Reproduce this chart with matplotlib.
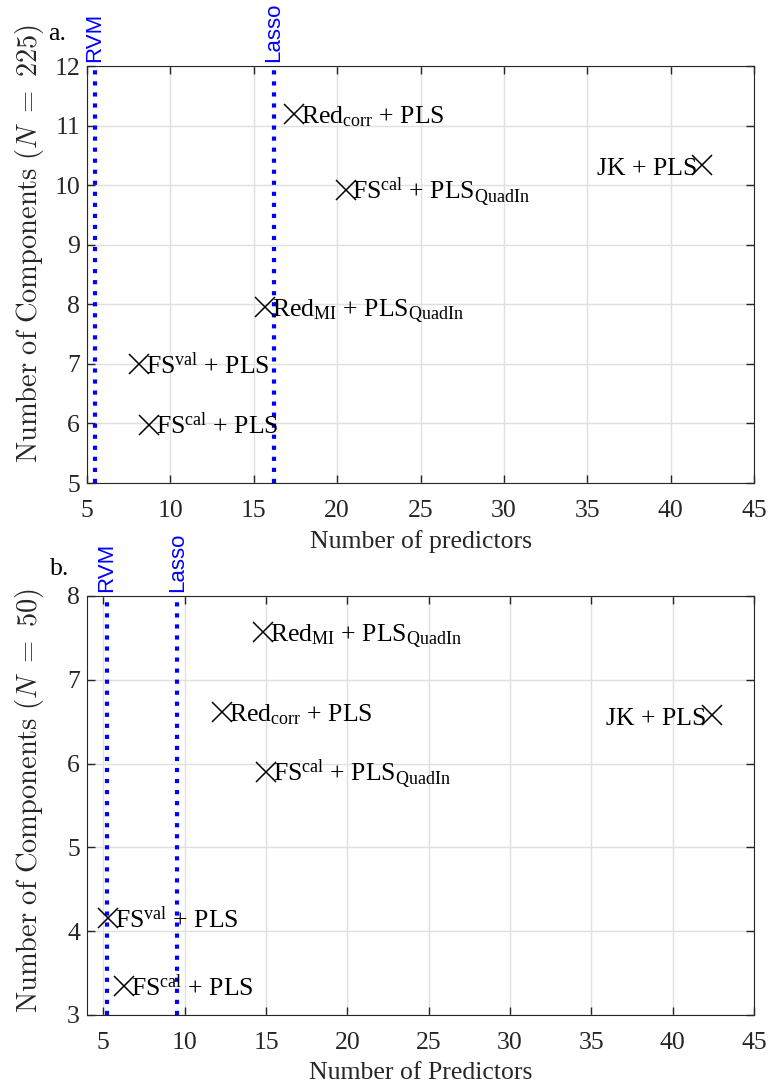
import matplotlib
matplotlib.use('Agg')
import matplotlib.pyplot as plt

plt.rcParams['font.family'] = 'Liberation Serif'
plt.rcParams['mathtext.fontset'] = 'custom'
plt.rcParams['mathtext.rm'] = 'Liberation Serif'
plt.rcParams['mathtext.it'] = 'Liberation Serif:italic'

# panel a (N = 225)
labels_a = [r'Red$_{\mathrm{corr}}$ + PLS', r'FS$^{\mathrm{cal}}$ + PLS$_{\mathrm{QuadIn}}$',
            r'Red$_{\mathrm{MI}}$ + PLS$_{\mathrm{QuadIn}}$', 'JK + PLS',
            r'FS$^{\mathrm{val}}$ + PLS', r'FS$^{\mathrm{cal}}$ + PLS']
x_a = [17.4, 20.5, 15.7, 41.9, 8.1, 8.7]
y_a = [11.2, 9.92, 7.96, 10.34, 7.0, 5.98]
rvm_a = 5.45
lasso_a = 16.2

# panel b (N = 50)
labels_b = [r'Red$_{\mathrm{MI}}$ + PLS$_{\mathrm{QuadIn}}$', r'Red$_{\mathrm{corr}}$ + PLS',
            r'FS$^{\mathrm{cal}}$ + PLS$_{\mathrm{QuadIn}}$', 'JK + PLS',
            r'FS$^{\mathrm{val}}$ + PLS', r'FS$^{\mathrm{cal}}$ + PLS']
x_b = [14.8, 12.3, 15.0, 42.4, 5.3, 6.3]
y_b = [7.57, 6.62, 5.90, 6.58, 4.16, 3.34]
rvm_b = 5.2
lasso_b = 9.55

fs = 18.5
fig = plt.figure(figsize=(7.68, 10.86), dpi=100)
ax1 = fig.add_axes([0.1133, 0.5552, 0.8687, 0.384])
ax2 = fig.add_axes([0.1133, 0.0654, 0.8687, 0.3858])


def draw(ax, xs, ys, labels, rvm, lasso, xlim, ylim, xlabel, ylabel, tag, tagpos):
    ax.grid(True, color='#e0e0e0', linewidth=1)
    ax.set_axisbelow(True)
    for xv, name in [(rvm, 'RVM'), (lasso, 'Lasso')]:
        ax.axvline(xv, color='#0000ff', linestyle=':', linewidth=3)
        ax.annotate(name, (xv, ylim[1]), xytext=(0, 3), textcoords='offset points',
                    rotation=90, color='#0000ff', ha='center', va='bottom',
                    family='Liberation Sans', fontsize=16, annotation_clip=False)
    for xv, yv, lab in zip(xs, ys, labels):
        ax.plot(xv, yv, 'x', color='black', markersize=14, markeredgewidth=1.1)
        if lab.startswith('JK'):
            ax.annotate(lab, (xv, yv), xytext=(-4, -7), textcoords='offset points',
                        ha='right', va='baseline', fontsize=fs)
        else:
            ax.annotate(lab, (xv, yv), xytext=(5, -7), textcoords='offset points',
                        ha='left', va='baseline', fontsize=fs)
    ax.set_xlim(xlim)
    ax.set_ylim(ylim)
    ax.set_xticks(range(5, 46, 5))
    ax.set_yticks(range(ylim[0], ylim[1] + 1))
    ax.tick_params(direction='in', top=True, right=True, labelsize=fs, colors='#262626',
                   length=6, width=1, pad=5)
    ax.tick_params(axis='x', pad=12)
    for sp in ax.spines.values():
        sp.set_color('#262626')
    ax.set_xlabel(xlabel, fontsize=fs, color='#262626', labelpad=6)
    ax.set_ylabel(ylabel, fontsize=20.5, color='#262626', math_fontfamily='cm')
    ax.text(tagpos[0], tagpos[1], tag, transform=ax.transAxes, fontsize=fs,
            ha='left', va='baseline')


draw(ax1, x_a, y_a, labels_a, rvm_a, lasso_a, (5, 45), (5, 12),
     'Number of predictors', r'$\mathrm{Number\ of\ Components}\ (N\ =\ 225)$',
     'a.', (-0.058, 1.062))
draw(ax2, x_b, y_b, labels_b, rvm_b, lasso_b, (4, 45), (3, 8),
     'Number of Predictors', r'$\mathrm{Number\ of\ Components}\ (N\ =\ 50)$',
     'b.', (-0.055, 1.05))
ax1.yaxis.set_label_coords(-0.062, 0.574)
ax2.yaxis.set_label_coords(-0.062, 0.511)

fig.savefig('out.png', dpi=100)
